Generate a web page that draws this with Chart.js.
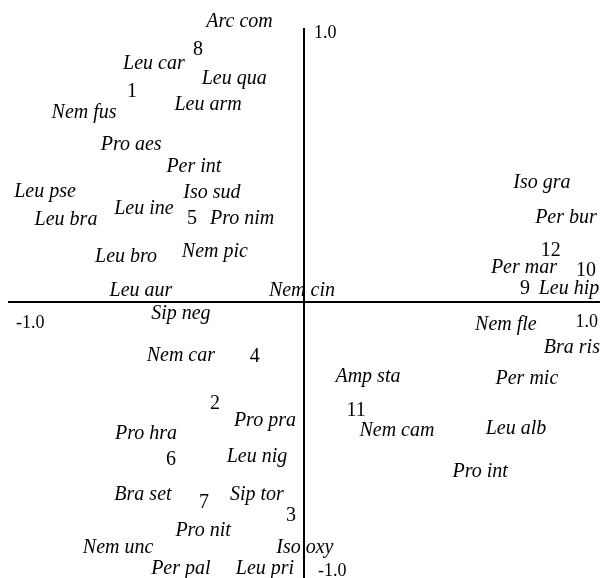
<!DOCTYPE html>
<html>
<head>
<meta charset="utf-8">
<script src="https://cdn.jsdelivr.net/npm/chart.js@4"></script>
<style>
html,body{margin:0;padding:0;background:#fff;}
#wrap{width:601px;height:578px;}
</style>
</head>
<body>
<div id="wrap"><canvas id="c" width="601" height="578"></canvas></div>
<script>
// Species scores (italic labels)
const speciesNames = ["Arc com","Leu car","Leu qua","Leu arm","Nem fus","Pro aes","Per int","Leu pse","Iso sud","Leu ine","Leu bra","Pro nim","Nem pic","Leu bro","Leu aur","Nem cin","Iso gra","Per bur","Per mar","Leu hip","Sip neg","Nem car","Pro pra","Pro hra","Leu nig","Bra set","Sip tor","Pro nit","Nem unc","Iso oxy","Per pal","Leu pri","Nem fle","Bra ris","Amp sta","Per mic","Nem cam","Leu alb","Pro int"];
const speciesX = [-0.218,-0.507,-0.236,-0.324,-0.743,-0.584,-0.372,-0.875,-0.311,-0.541,-0.804,-0.209,-0.301,-0.601,-0.551,-0.007,0.804,0.885,0.743,0.895,-0.416,-0.416,-0.132,-0.534,-0.159,-0.544,-0.159,-0.341,-0.628,0.003,-0.416,-0.132,0.682,0.905,0.216,0.753,0.314,0.716,0.595];
const speciesY = [1.026,0.872,0.818,0.723,0.693,0.577,0.496,0.405,0.401,0.343,0.303,0.307,0.186,0.168,0.045,0.045,0.438,0.310,0.128,0.051,-0.040,-0.193,-0.431,-0.478,-0.562,-0.701,-0.701,-0.832,-0.894,-0.894,-0.971,-0.971,-0.080,-0.164,-0.270,-0.277,-0.467,-0.460,-0.617];
// Site scores (numbered)
const siteNames = ["1","2","3","4","5","6","7","8","9","10","11","12"];
const siteX = [-0.581,-0.301,-0.044,-0.166,-0.378,-0.449,-0.338,-0.358,0.747,0.953,0.176,0.834];
const siteY = [0.770,-0.369,-0.777,-0.197,0.307,-0.573,-0.730,0.923,0.051,0.117,-0.394,0.190];
// Axis end labels
const axisMin = -1.0, axisMax = 1.0;
const tickLabels = ["-1.0","1.0"];

const toPts = (xs, ys) => xs.map((x,i)=>({x:x,y:ys[i]}));

const labelPlugin = {
  id:'labels',
  afterDatasetsDraw(chart){
    const ctx = chart.ctx;
    const xs = chart.scales.x, ys = chart.scales.y;
    ctx.save();
    ctx.fillStyle = '#000';
    ctx.textAlign = 'center';
    ctx.textBaseline = 'middle';
    chart.data.datasets.forEach((ds)=>{
      ctx.font = ds.labelFont;
      ds.data.forEach((p,i)=>{
        ctx.fillText(ds.names[i], xs.getPixelForValue(p.x), ys.getPixelForValue(p.y) + 1);
      });
    });
    // axes
    const x0 = xs.getPixelForValue(0), y0 = ys.getPixelForValue(0);
    ctx.strokeStyle = '#000';
    ctx.lineWidth = 2;
    ctx.beginPath();
    ctx.moveTo(xs.getPixelForValue(axisMin), y0);
    ctx.lineTo(xs.getPixelForValue(axisMax), y0);
    ctx.moveTo(x0, ys.getPixelForValue(axisMax));
    ctx.lineTo(x0, chart.height);
    ctx.stroke();
    // axis end labels
    ctx.font = '18px "Liberation Serif"';
    ctx.textAlign = 'left';
    ctx.fillText(tickLabels[1], x0 + 10, ys.getPixelForValue(axisMax) + 5);
    ctx.fillText(tickLabels[0], xs.getPixelForValue(axisMin) + 8, y0 + 21);
    ctx.textAlign = 'right';
    ctx.fillText(tickLabels[1], xs.getPixelForValue(axisMax) - 2, y0 + 20);
    ctx.textAlign = 'left';
    ctx.fillText(tickLabels[0], x0 + 14, chart.height - 7);
    ctx.restore();
  }
};

new Chart(document.getElementById('c'), {
  type:'scatter',
  data:{
    datasets:[
      {label:'species', data:toPts(speciesX, speciesY), names:speciesNames, labelFont:'italic 20px "Liberation Serif"', pointRadius:0, pointHoverRadius:0},
      {label:'sites', data:toPts(siteX, siteY), names:siteNames, labelFont:'20px "Liberation Serif"', pointRadius:0, pointHoverRadius:0}
    ]
  },
  options:{
    responsive:false,
    animation:false,
    events:[],
    layout:{padding:{left:8,right:1,top:28,bottom:2}},
    plugins:{legend:{display:false}, tooltip:{enabled:false}},
    scales:{
      x:{type:'linear', min:axisMin, max:axisMax, display:false},
      y:{type:'linear', min:axisMin, max:axisMax, display:false}
    }
  },
  plugins:[labelPlugin]
});
</script>
</body>
</html>
